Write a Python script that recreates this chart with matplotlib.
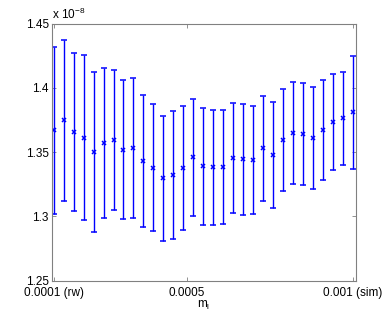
import numpy as np
import matplotlib
matplotlib.use("Agg")
import matplotlib.pyplot as plt

x_start = 0.0001
x_end = 0.001
n_points = 31
m_l = np.linspace(x_start, x_end, n_points)

values = [1.3669, 1.3748, 1.3657, 1.3613, 1.3502, 1.3573, 1.3595, 1.3519, 1.3534, 1.3430,
          1.3379, 1.3298, 1.3323, 1.3379, 1.3459, 1.3391, 1.3381, 1.3386, 1.3455, 1.3445,
          1.3441, 1.3529, 1.3477, 1.3597, 1.3648, 1.3642, 1.3613, 1.3670, 1.3737, 1.3765,
          1.3809]
errors = [0.0647, 0.0625, 0.0617, 0.0640, 0.0623, 0.0585, 0.0545, 0.0539, 0.0546, 0.0512,
          0.0494, 0.0486, 0.0496, 0.0482, 0.0458, 0.0455, 0.0445, 0.0445, 0.0428, 0.0430,
          0.0422, 0.0411, 0.0414, 0.0397, 0.0398, 0.0399, 0.0397, 0.0389, 0.0375, 0.0362,
          0.0437]

x_ticks = [0.0001, 0.0005, 0.001]
x_tick_labels = ["0.0001 (rw)", "0.0005", "0.001 (sim)"]
y_ticks = [1.25, 1.3, 1.35, 1.4, 1.45]
y_tick_labels = ["1.25", "1.3", "1.35", "1.4", "1.45"]

plt.rcParams['font.family'] = ['Liberation Sans', 'DejaVu Sans']
plt.rcParams['mathtext.fontset'] = 'custom'
plt.rcParams['mathtext.rm'] = 'Liberation Sans'
plt.rcParams['mathtext.it'] = 'Liberation Sans'

fig = plt.figure(figsize=(3.92, 3.16), dpi=100)
ax = fig.add_axes([0.1314, 0.1117, 0.9074 - 0.1314, 0.925 - 0.1117])

ax.errorbar(m_l, values, yerr=errors, fmt='x', color='#0000ff', ecolor='#0000ff',
            elinewidth=1.0, capsize=2.2, capthick=1.0, markersize=3, markeredgewidth=1.1)

ax.set_xlim(0.0000934, 0.001009)
ax.set_ylim(1.25, 1.45)
ax.set_xticks(x_ticks)
ax.set_xticklabels(x_tick_labels)
ax.set_yticks(y_ticks)
ax.set_yticklabels(y_tick_labels)

ax.tick_params(direction='in', top=True, right=True, length=3, width=0.6,
               colors='#808080', labelcolor='black', labelsize=8.5, pad=2)
ax.tick_params(axis='x', pad=4.5)
for s in ax.spines.values():
    s.set_color('#808080')
    s.set_linewidth(0.8)

ax.set_xlabel(r"m$_\mathregular{l}$", fontsize=8.5, labelpad=0)
ax.text(0.0, 1.005, r"x 10$^{\mathregular{-8}}$", transform=ax.transAxes,
        fontsize=8.5, ha='left', va='bottom')

fig.savefig("out.png", dpi=100)
